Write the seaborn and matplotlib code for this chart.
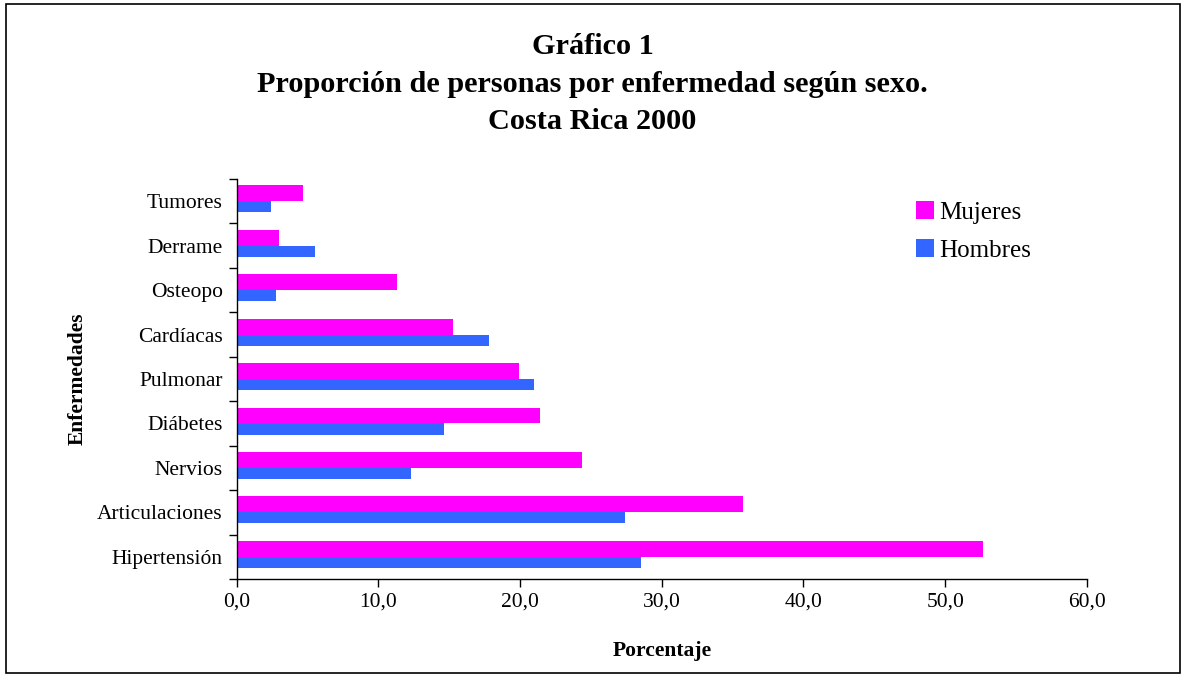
import matplotlib
matplotlib.use("Agg")
import matplotlib.pyplot as plt
from matplotlib.patches import Rectangle
from matplotlib.ticker import FixedLocator, FuncFormatter
import seaborn as sns
import pandas as pd

categories = ["Tumores", "Derrame", "Osteopo", "Cardíacas", "Pulmonar",
              "Diábetes", "Nervios", "Articulaciones", "Hipertensión"]
mujeres = [4.7, 3.0, 11.3, 15.3, 19.9, 21.4, 24.4, 35.7, 52.7]
hombres = [2.4, 5.5, 2.8, 17.8, 21.0, 14.6, 12.3, 27.4, 28.5]
series = ["Mujeres", "Hombres"]
xticks = [0, 10, 20, 30, 40, 50, 60]

df = pd.DataFrame({
    "Enfermedad": categories * 2,
    "Sexo": [series[0]] * len(categories) + [series[1]] * len(categories),
    "Porcentaje": mujeres + hombres,
})

sns.set_style("white")
plt.rcParams["font.family"] = ["Liberation Serif", "DejaVu Serif"]
plt.rcParams["text.color"] = "black"
plt.rcParams["axes.labelcolor"] = "black"
plt.rcParams["xtick.color"] = "black"
plt.rcParams["ytick.color"] = "black"

fig = plt.figure(figsize=(11.85, 6.77), dpi=100)
ax = fig.add_axes([0.1997, 0.1448, 0.7175, 0.5908])

sns.barplot(data=df, y="Enfermedad", x="Porcentaje", hue="Sexo",
            order=categories, hue_order=series,
            palette={"Mujeres": "#FF00FF", "Hombres": "#3366FF"},
            orient="h", width=0.6, dodge=True, ax=ax, errorbar=None,
            linewidth=0, saturation=1)

# Excel-like unequal bar thickness: Mujeres thicker above center, Hombres below
n = len(categories)
for i, p in enumerate(ax.patches[:2 * n]):
    y0 = p.get_y()
    h = p.get_height()
    if i < n:  # Mujeres
        c = y0 + h
        p.set_y(c - 0.356)
        p.set_height(0.356)
    else:
        c = y0
        p.set_y(c)
        p.set_height(0.25)

ax.set_xlim(0, 60)
ax.set_ylim(n - 0.5, -0.5)
ax.xaxis.set_major_locator(FixedLocator(xticks))
ax.xaxis.set_major_formatter(FuncFormatter(lambda v, _: f"{v:.1f}".replace(".", ",")))
ax.tick_params(axis="x", direction="out", length=6, width=1, labelsize=15.5,
               pad=4, bottom=True)
ax.tick_params(axis="y", which="major", length=0, labelsize=15.5, pad=10)
ax.yaxis.set_minor_locator(FixedLocator([i - 0.5 for i in range(n + 1)]))
ax.tick_params(axis="y", which="minor", direction="out", length=6, width=1, left=True)

for s in ["top", "right"]:
    ax.spines[s].set_visible(False)
for s in ["left", "bottom"]:
    ax.spines[s].set_color("black")
    ax.spines[s].set_linewidth(1)

ax.set_xlabel("Porcentaje", fontsize=15.5, fontweight="bold", labelpad=21)
ax.set_ylabel("Enfermedades", fontsize=15.5, fontweight="bold", labelpad=7)

leg = ax.legend(loc="upper left", bbox_to_anchor=(0.773, 1.0), frameon=False,
                fontsize=18, handlelength=0.7, handleheight=0.7,
                handletextpad=0.2, labelspacing=0.62)

fig.text(0.5, 0.931, "Gráfico 1", ha="center", va="center", fontsize=21.8, fontweight="bold")
fig.text(0.5, 0.875, "Proporción de personas por enfermedad según sexo.", ha="center",
         va="center", fontsize=21.8, fontweight="bold")
fig.text(0.5, 0.820, "Costa Rica 2000", ha="center", va="center", fontsize=21.8, fontweight="bold")

fig.patches.append(Rectangle((6 / 1185, 4 / 677), 1174 / 1185, 669 / 677,
                             transform=fig.transFigure, fill=False,
                             edgecolor="black", linewidth=1.2))

fig.savefig("out.png", dpi=100)
